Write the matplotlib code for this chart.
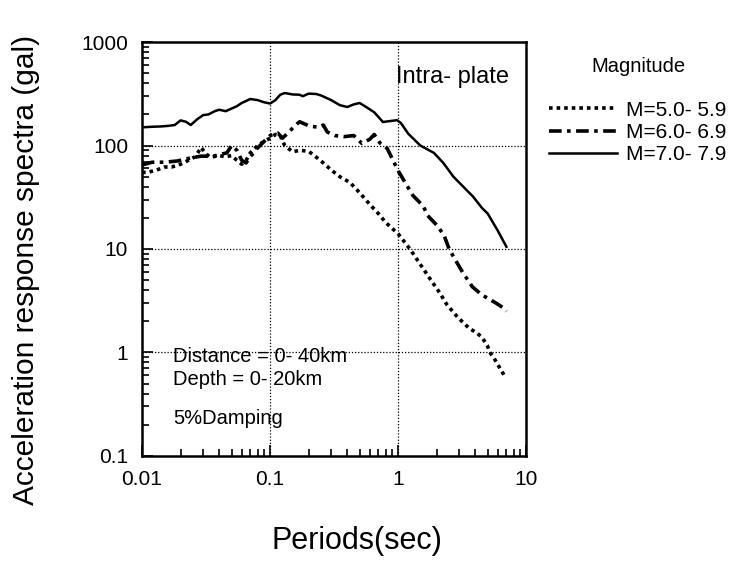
import matplotlib
matplotlib.use("Agg")
import matplotlib.pyplot as plt
from matplotlib.ticker import LogLocator, NullFormatter

plt.rcParams.update({"font.family": ["Liberation Sans", "DejaVu Sans"], "font.size": 14.5})

# M=5.0-5.9 (dotted)
t_m5 = [0.01, 0.011, 0.013, 0.015, 0.017, 0.02, 0.023, 0.026, 0.029, 0.031, 0.034, 0.04,
        0.045, 0.05, 0.055, 0.06, 0.065, 0.07, 0.08, 0.09, 0.1, 0.11, 0.12, 0.13, 0.15,
        0.17, 0.2, 0.23, 0.26, 0.3, 0.35, 0.42, 0.5, 0.6, 0.7, 0.8, 1.0, 1.25, 1.5, 1.8,
        2.1, 2.4, 2.9, 3.6, 4.1, 4.5, 4.96, 5.2, 5.6, 6.2, 6.9]
sa_m5 = [55, 55, 58, 62, 62, 66, 72, 78, 96, 85, 77, 80,
         78, 80, 72, 66, 72, 85, 100, 110, 118, 128, 125, 100, 87,
         90, 88, 77, 68, 58, 50, 44, 35, 27, 22, 18, 14, 9.8, 7, 5,
         3.8, 2.9, 2.2, 1.7, 1.55, 1.4, 1.17, 1.0, 0.88, 0.71, 0.57]

# M=6.0-6.9 (dash-dot)
t_m6 = [0.01, 0.012, 0.015, 0.019, 0.024, 0.029, 0.036, 0.046, 0.05, 0.055, 0.06, 0.065,
        0.07, 0.08, 0.09, 0.1, 0.115, 0.125, 0.14, 0.16, 0.17, 0.19, 0.2, 0.24, 0.26,
        0.28, 0.32, 0.38, 0.45, 0.52, 0.6, 0.65, 0.72, 0.82, 1.0, 1.3, 1.57, 1.7, 2.0,
        2.28, 2.5, 2.8, 3.2, 3.8, 4.5, 5.8, 6.6, 7.0]
sa_m6 = [65, 69, 69, 71, 76, 79, 79, 85, 100, 90, 72, 68,
         78, 95, 110, 125, 132, 118, 135, 160, 170, 160, 155, 150, 158,
         135, 125, 122, 125, 105, 115, 128, 106, 94, 57, 33, 26, 21, 17,
         13.6, 10, 7.8, 5.9, 4.3, 3.6, 3.0, 2.7, 2.5]

# M=7.0-7.9 (solid)
t_m7 = [0.01, 0.012, 0.014, 0.016, 0.018, 0.02, 0.022, 0.024, 0.027, 0.03, 0.033, 0.037,
        0.04, 0.045, 0.05, 0.055, 0.06, 0.065, 0.07, 0.08, 0.09, 0.1, 0.11, 0.12, 0.13,
        0.15, 0.17, 0.18, 0.2, 0.23, 0.25, 0.3, 0.35, 0.4, 0.45, 0.5, 0.55, 0.65, 0.76,
        0.85, 0.98, 1.05, 1.2, 1.49, 1.9, 2.25, 2.7, 3.85, 4.5, 5.0, 6.0, 7.0]
sa_m7 = [150, 152, 153, 155, 158, 175, 170, 158, 180, 197, 200, 215,
         222, 215, 228, 240, 258, 270, 282, 275, 262, 255, 275, 310, 322,
         312, 310, 300, 318, 315, 305, 275, 246, 236, 250, 258, 240, 210, 169,
         172, 176, 165, 130, 100, 85, 68, 50, 32, 25, 22, 15, 10.5]

fig = plt.figure(figsize=(7.36, 5.62), dpi=100)
ax = fig.add_axes([0.193, 0.189, 0.522, 0.736])

ax.plot(t_m5, sa_m5, color="black", lw=2.6, ls=(0, (1, 1.1)), label="M=5.0- 5.9")
ax.plot(t_m6, sa_m6, color="black", lw=2.6, ls=(0, (3.5, 1.5, 1, 1.5)), label="M=6.0- 6.9")
ax.plot(t_m7, sa_m7, color="black", lw=1.8, ls="-", label="M=7.0- 7.9")

ax.set_xscale("log")
ax.set_yscale("log")
ax.set_xlim(0.01, 10)
ax.set_ylim(0.1, 1000)
ax.set_xticks([0.01, 0.1, 1, 10])
ax.set_xticklabels(["0.01", "0.1", "1", "10"])
ax.set_yticks([0.1, 1, 10, 100, 1000])
ax.set_yticklabels(["0.1", "1", "10", "100", "1000"])
ax.xaxis.set_minor_locator(LogLocator(base=10, subs=range(2, 10)))
ax.yaxis.set_minor_locator(LogLocator(base=10, subs=range(2, 10)))
ax.xaxis.set_minor_formatter(NullFormatter())
ax.yaxis.set_minor_formatter(NullFormatter())
ax.tick_params(which="both", direction="in", top=False, right=False, width=1.2)
ax.tick_params(which="major", length=8, pad=10, labelsize=15)
ax.tick_params(which="minor", length=5)
for s in ax.spines.values():
    s.set_linewidth(1.8)

# dotted grid only at the inner decades
for xv in [0.1, 1]:
    ax.axvline(xv, color="black", lw=0.9, ls=(0, (1, 1.5)), zorder=0)
for yv in [1, 10, 100]:
    ax.axhline(yv, color="black", lw=0.9, ls=(0, (1, 1.5)), zorder=0)

ax.set_xlabel("Periods(sec)", fontsize=22)
ax.set_ylabel("Acceleration response spectra (gal)", fontsize=21.5)
ax.xaxis.set_label_coords(0.56, -0.17)
ax.yaxis.set_label_coords(-0.265, 0.45)

ax.text(0.66, 0.915, "Intra- plate", transform=ax.transAxes, fontsize=17, va="center")
ax.text(0.08, 0.24, "Distance = 0- 40km", transform=ax.transAxes, fontsize=14.5, va="center")
ax.text(0.08, 0.185, "Depth = 0- 20km", transform=ax.transAxes, fontsize=14.5, va="center")
ax.text(0.08, 0.09, "5%Damping", transform=ax.transAxes, fontsize=14.5, va="center")

leg = ax.legend(loc="upper left", bbox_to_anchor=(1.022, 1.0), frameon=False,
                title="Magnitude", title_fontsize=14.5, fontsize=15,
                handlelength=3.25, handletextpad=0.45, labelspacing=0.15,
                borderaxespad=0.3)
leg._legend_box.sep = 18

fig.savefig("out.png", dpi=100)
